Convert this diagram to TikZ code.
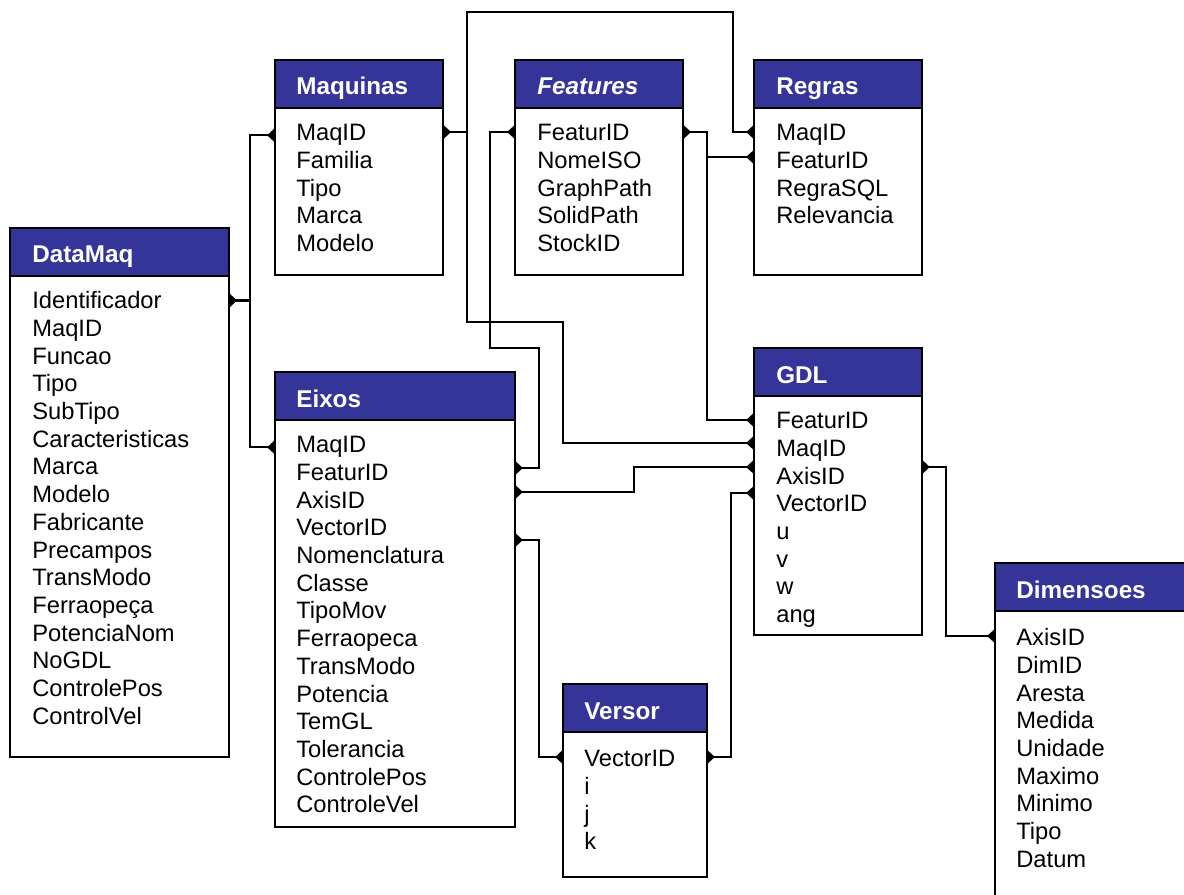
\documentclass[tikz,border=0pt]{standalone}
\usepackage{fontspec}
\setmainfont{Liberation Sans}
\usetikzlibrary{calc, arrows.meta}

\definecolor{azul}{RGB}{53,53,153}
\tikzset{
  tabela/.style={draw, fill=white, line width=1.2pt, anchor=north west, inner sep=0pt, outer sep=0pt},
  cabeca/.style={fill=azul, draw=black, line width=1.2pt},
  titulo/.style={anchor=base west, inner sep=0pt, text=white, font=\fontsize{13.8}{16}\selectfont\bfseries},
  campo/.style={anchor=base west, inner sep=0pt, font=\fontsize{13.5}{16}\selectfont},
  pe/.tip={Triangle[reversed, length=4.5pt, width=8pt]},
  liga/.style={draw, line width=1.2pt, pe-pe}
}

\begin{document}
\begin{tikzpicture}[x=0.02cm, y=-0.02cm]
            \useasboundingbox (0,0) rectangle (1184,895);
            \clip (0,0) rectangle (1184,895);

            % tabelas
            \node[tabela, minimum width=4.38cm, minimum height=10.58cm] (datamaq) at (10,228) {};
            \filldraw[cabeca] (datamaq.north west) rectangle ($(datamaq.north east)+(0,48)$);
            \node[titulo] at ($(datamaq.north west)+(22,35)$) {DataMaq};
            \foreach \c [count=\i] in {Identificador, MaqID, Funcao, Tipo, SubTipo, Caracteristicas, Marca, Modelo, Fabricante, Precampos, TransModo, Ferraopeça, PotenciaNom, NoGDL, ControlePos, ControlVel}
                \node[campo] (datamaq-\i) at ($(datamaq.north west)+(22,53.3+27.67*\i)$) {\c};

            \node[tabela, minimum width=3.36cm, minimum height=4.3cm] (maquinas) at (275,60) {};
            \filldraw[cabeca] (maquinas.north west) rectangle ($(maquinas.north east)+(0,48)$);
            \node[titulo] at ($(maquinas.north west)+(21,35)$) {Maquinas};
            \foreach \c [count=\i] in {MaqID, Familia, Tipo, Marca, Modelo}
                \node[campo] (maquinas-\i) at ($(maquinas.north west)+(21,53.3+27.67*\i)$) {\c};

            \node[tabela, minimum width=3.36cm, minimum height=4.3cm] (features) at (515,60) {};
            \filldraw[cabeca] (features.north west) rectangle ($(features.north east)+(0,48)$);
            \node[titulo] at ($(features.north west)+(22,35)$) {\itshape Features};
            \foreach \c [count=\i] in {FeaturID, NomeISO, GraphPath, SolidPath, StockID}
                \node[campo] (features-\i) at ($(features.north west)+(22,53.3+27.67*\i)$) {\c};

            \node[tabela, minimum width=3.36cm, minimum height=4.3cm] (regras) at (754,60) {};
            \filldraw[cabeca] (regras.north west) rectangle ($(regras.north east)+(0,48)$);
            \node[titulo] at ($(regras.north west)+(22,35)$) {Regras};
            \foreach \c [count=\i] in {MaqID, FeaturID, RegraSQL, Relevancia}
                \node[campo] (regras-\i) at ($(regras.north west)+(22,53.3+27.67*\i)$) {\c};

            \node[tabela, minimum width=4.8cm, minimum height=9.1cm] (eixos) at (275,372) {};
            \filldraw[cabeca] (eixos.north west) rectangle ($(eixos.north east)+(0,48)$);
            \node[titulo] at ($(eixos.north west)+(21,35)$) {Eixos};
            \foreach \c [count=\i] in {MaqID, FeaturID, AxisID, VectorID, Nomenclatura, Classe, TipoMov, Ferraopeca, TransModo, Potencia, TemGL, Tolerancia, ControlePos, ControleVel}
                \node[campo] (eixos-\i) at ($(eixos.north west)+(21,53.3+27.67*\i)$) {\c};

            \node[tabela, minimum width=3.36cm, minimum height=5.74cm] (gdl) at (754,348) {};
            \filldraw[cabeca] (gdl.north west) rectangle ($(gdl.north east)+(0,48)$);
            \node[titulo] at ($(gdl.north west)+(22,35)$) {GDL};
            \foreach \c [count=\i] in {FeaturID, MaqID, AxisID, VectorID, u, v, w, ang}
                \node[campo] (gdl-\i) at ($(gdl.north west)+(22,53.3+27.67*\i)$) {\c};

            \node[tabela, minimum width=4.4cm, minimum height=7.2cm] (dimensoes) at (995,563) {};
            \filldraw[cabeca] (dimensoes.north west) rectangle ($(dimensoes.north east)+(0,48)$);
            \node[titulo] at ($(dimensoes.north west)+(21,35)$) {Dimensoes};
            \foreach \c [count=\i] in {AxisID, DimID, Aresta, Medida, Unidade, Maximo, Minimo, Tipo, Datum}
                \node[campo] (dimensoes-\i) at ($(dimensoes.north west)+(21,55.3+27.67*\i)$) {\c};

            \node[tabela, minimum width=2.88cm, minimum height=3.86cm] (versor) at (563,684) {};
            \filldraw[cabeca] (versor.north west) rectangle ($(versor.north east)+(0,48)$);
            \node[titulo] at ($(versor.north west)+(21,35)$) {Versor};
            \foreach \c [count=\i] in {VectorID, i, j, k}
                \node[campo] (versor-\i) at ($(versor.north west)+(21,55.3+27.67*\i)$) {\c};

            % ligacoes
            \draw[liga] (datamaq.east |- datamaq-1) -- ++(21,0) |- (maquinas.west |- maquinas-1);
            \draw[liga] (datamaq.east |- datamaq-1) -- ++(21,0) |- (eixos.west |- eixos-1);

            \draw[liga] ($(maquinas.north east)+(0,72)$) -- ++(24,0) -- ++(0,-120) -- ++(266,0) |- ($(regras.north west)+(0,72)$);
            \draw[liga] ($(maquinas.north east)+(0,72)$) -- ++(24,0) -- ++(0,190) -- ++(96,0) |- ($(gdl.north west)+(0,95)$);

            \draw[liga] ($(features.north west)+(0,72)$) -- ++(-25,0) -- ++(0,216) -- ++(49,0) |- ($(eixos.north east)+(0,96)$);
            \draw[liga] ($(features.north east)+(0,72)$) -- ++(24,0) |- ($(gdl.north west)+(0,72)$);
            \draw[liga] ($(features.north east)+(0,72)$) -- ++(24,0) |- ($(regras.north west)+(0,97)$);

            \draw[liga] ($(eixos.north east)+(0,120)$) -- ++(119,0) |- ($(gdl.north west)+(0,119)$);
            \draw[liga] ($(eixos.north east)+(0,168)$) -- ++(24,0) |- ($(versor.north west)+(0,73)$);
            \draw[liga] ($(versor.north east)+(0,73)$) -- ++(24,0) |- ($(gdl.north west)+(0,145)$);
            \draw[liga] ($(gdl.north east)+(0,119)$) -- ++(24,0) |- ($(dimensoes.north west)+(0,73)$);
        \end{tikzpicture}
\end{document}
